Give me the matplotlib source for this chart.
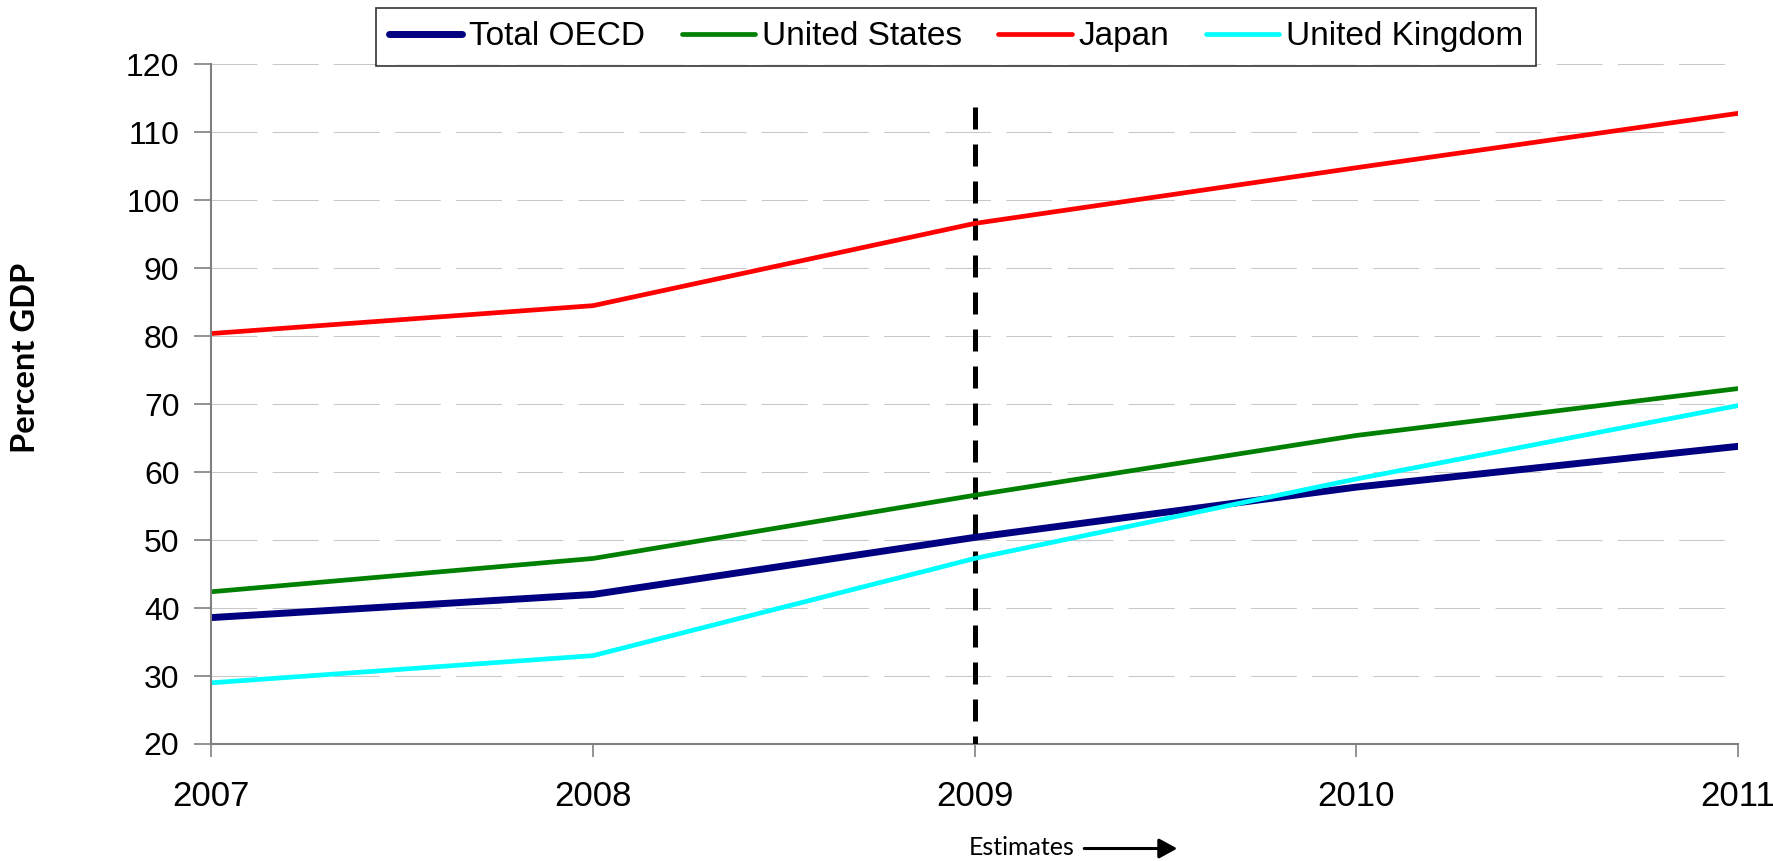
import matplotlib
matplotlib.use("Agg")
import matplotlib.pyplot as plt
from matplotlib.patches import FancyArrowPatch

years = [2007, 2008, 2009, 2010, 2011]
total_oecd = [38.6, 42.0, 50.4, 57.8, 63.8]
united_states = [42.4, 47.3, 56.6, 65.4, 72.3]
japan = [80.4, 84.5, 96.6, 104.8, 112.8]
united_kingdom = [29.0, 33.0, 47.3, 59.0, 69.8]
series_names = ["Total OECD", "United States", "Japan", "United Kingdom"]
y_ticks = [20, 30, 40, 50, 60, 70, 80, 90, 100, 110, 120]
estimate_year = 2009
estimate_top = 113.8

plt.rcParams['font.family'] = ['Liberation Sans', 'DejaVu Sans']

fig = plt.figure(figsize=(17.73, 8.61), dpi=100)
ax = fig.add_axes([0.1192, 0.1359, 0.8611, 0.7893])

ax.plot(years, total_oecd, color='#000080', lw=5.0, solid_capstyle='round', label=series_names[0], zorder=4)
ax.plot(years, united_states, color='#008000', lw=3.4, solid_capstyle='round', label=series_names[1], zorder=4)
ax.plot(years, japan, color='#FF0000', lw=3.4, solid_capstyle='round', label=series_names[2], zorder=4)
ax.plot(years, united_kingdom, color='#00FFFF', lw=3.4, solid_capstyle='round', label=series_names[3], zorder=4)

ax.plot([estimate_year, estimate_year], [estimate_top, 20], color='black', lw=3.6,
        ls=(0, (4.4, 3.0)), zorder=3)

ax.set_xlim(2007, 2011)
ax.set_ylim(20, 120)
ax.set_xticks(years)
ax.set_xticklabels([str(y) for y in years])
ax.set_yticks(y_ticks)
ax.tick_params(axis='y', labelsize=23, length=12, width=1.2, color='#808080', pad=11, direction='out')
ax.tick_params(axis='x', labelsize=25, length=9, width=1.2, color='#808080', pad=17, direction='out')
ax.yaxis.grid(True, color='#c8c8c8', lw=0.75, ls=(0, (44, 14.7)))
ax.set_axisbelow(True)
for s in ['top', 'right']:
    ax.spines[s].set_visible(False)
for s in ['left', 'bottom']:
    ax.spines[s].set_color('#808080')
    ax.spines[s].set_linewidth(1.5)
ax.spines['left'].set_zorder(5)

fig.text(0.0143, 0.584, "Percent GDP", rotation=90, ha='center', va='center',
         fontsize=23.5, fontweight='bold', family=['Lato', 'DejaVu Sans'])

fig.text(0.606, 0.0155, "Estimates", ha='right', va='center', fontsize=18,
         family=['Lato', 'DejaVu Sans'])
fig.patches.append(FancyArrowPatch(
    (0.6115, 0.0145), (0.664, 0.0145), transform=fig.transFigure,
    arrowstyle='-|>,head_length=0.55,head_width=0.3', mutation_scale=20, lw=2.2,
    color='black', shrinkA=0, shrinkB=0))

leg = fig.legend(loc='upper center', bbox_to_anchor=(0.5392, 0.9907), ncol=4,
                 fontsize=24, frameon=True, fancybox=False, edgecolor='black',
                 handlelength=2.2, handletextpad=0.2, columnspacing=1.1,
                 borderpad=0.4, borderaxespad=0)
leg.get_frame().set_linewidth(1.2)

fig.savefig("out.png", dpi=100)
